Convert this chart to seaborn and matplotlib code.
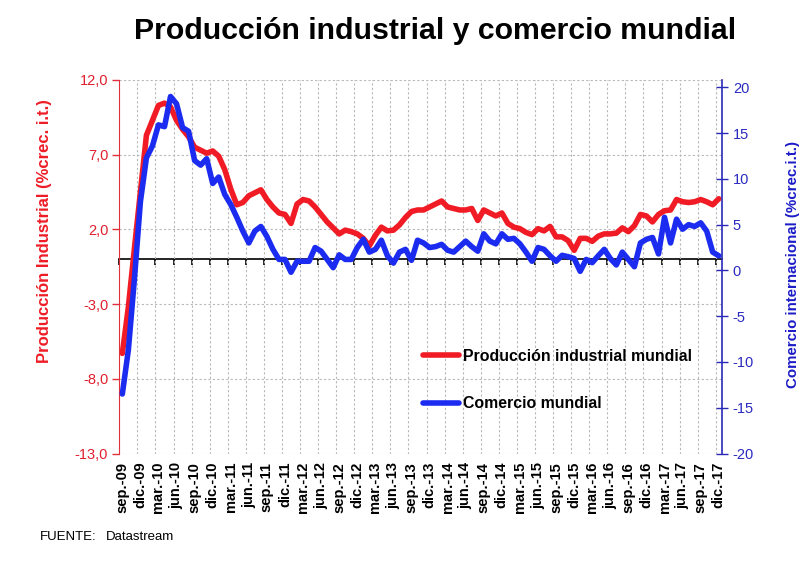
import numpy as np
import pandas as pd
import seaborn as sns
import matplotlib.pyplot as plt


# Datos mensuales, sep-09 ... dic-17 (tasas de crecimiento inter-trimestral)
prod_industrial = [
    -6.3, -3.2, 0.7, 4.5, 8.3, 9.3, 10.3, 10.45, 10.2, 9.3,
    8.7, 8.2, 7.5, 7.3, 7.1, 7.25, 6.9, 6.0, 4.7, 3.65,
    3.8, 4.25, 4.45, 4.65, 4.0, 3.5, 3.1, 3.0, 2.4, 3.7,
    4.0, 3.9, 3.5, 3.0, 2.5, 2.1, 1.7, 1.95, 1.85, 1.7,
    1.4, 0.9, 1.6, 2.15, 1.9, 1.95, 2.3, 2.8, 3.2, 3.3,
    3.3, 3.5, 3.7, 3.9, 3.5, 3.4, 3.3, 3.3, 3.4, 2.6,
    3.3, 3.1, 2.9, 3.1, 2.4, 2.15, 2.05, 1.8, 1.65, 2.05,
    1.9, 2.2, 1.5, 1.5, 1.25, 0.6, 1.4, 1.4, 1.2, 1.55,
    1.7, 1.7, 1.75, 2.1, 1.85, 2.25, 3.0, 2.9, 2.5, 3.0,
    3.25, 3.3, 4.0, 3.85, 3.8, 3.85, 4.0, 3.85, 3.65, 4.05,
]

comercio_mundial = [
    -13.5, -8.7, -1.0, 7.5, 12.3, 13.6, 15.9, 15.7, 19.0, 18.2,
    15.6, 15.2, 12.0, 11.5, 12.2, 9.5, 10.2, 8.3, 7.2, 5.8,
    4.3, 3.0, 4.3, 4.8, 3.7, 2.3, 1.2, 1.2, -0.2, 1.0,
    1.0, 1.0, 2.5, 2.1, 1.2, 0.3, 1.7, 1.2, 1.2, 2.5,
    3.4, 2.0, 2.3, 3.3, 1.6, 0.8, 2.0, 2.3, 1.1, 3.3,
    3.0, 2.5, 2.6, 2.85, 2.2, 2.0, 2.6, 3.2, 2.6, 2.1,
    4.0, 3.2, 2.9, 4.0, 3.4, 3.5, 2.9, 2.0, 1.0, 2.5,
    2.3, 1.6, 1.0, 1.65, 1.5, 1.3, -0.1, 1.2, 0.85, 1.6,
    2.3, 1.3, 0.6, 2.0, 1.2, 0.4, 3.0, 3.4, 3.6, 1.8,
    5.8, 3.0, 5.6, 4.5, 5.0, 4.8, 5.2, 4.3, 2.0, 1.6,
]

tick_labels = [
    'sep.-09', 'dic.-09', 'mar.-10', 'jun.-10', 'sep.-10', 'dic.-10',
    'mar.-11', 'jun.-11', 'sep.-11', 'dic.-11', 'mar.-12', 'jun.-12',
    'sep.-12', 'dic.-12', 'mar.-13', 'jun.-13', 'sep.-13', 'dic.-13',
    'mar.-14', 'jun.-14', 'sep.-14', 'dic.-14', 'mar.-15', 'jun.-15',
    'sep.-15', 'dic.-15', 'mar.-16', 'jun.-16', 'sep.-16', 'dic.-16',
    'mar.-17', 'jun.-17', 'sep.-17', 'dic.-17',
]

left_ticks = [-13, -8, -3, 2, 7, 12]
right_ticks = [-20, -15, -10, -5, 0, 5, 10, 15, 20]

RED = '#F01B24'
BLUE = '#1B2CF0'

sns.set_style('white')
plt.rcParams['font.family'] = ['Liberation Sans', 'DejaVu Sans']
plt.rcParams['axes.unicode_minus'] = False
plt.rcParams['text.color'] = 'black'
plt.rcParams['xtick.color'] = 'black'

df = pd.DataFrame({
    'mes': np.arange(len(prod_industrial)),
    'prod': prod_industrial,
    'comercio': comercio_mundial,
})

fig = plt.figure(figsize=(8.04, 5.61), dpi=100)
ax = fig.add_axes([0.1484, 0.1916, 0.7493, 0.6658])
ax2 = ax.twinx()

sns.lineplot(data=df, x='mes', y='prod', ax=ax, color=RED, lw=4.0, legend=False)
sns.lineplot(data=df, x='mes', y='comercio', ax=ax2, color=BLUE, lw=4.0, legend=False)

ax.set_xlim(-0.5, len(df) - 0.5)
ax.set_ylim(-13, 12)
ax2.set_ylim(-20, 20.8)

# eje x: etiquetas trimestrales, rejilla entre categorias
ax.set_xticks(np.arange(0, len(df), 3))
ax.set_xticklabels(tick_labels, rotation=90, fontweight='bold', fontsize=10.5, color='black')
ax.set_xticks(np.arange(-0.5, len(df) - 1, 3), minor=True)
ax.tick_params(axis='x', which='both', length=0, pad=6)
ax.grid(which='minor', axis='x', color='#B8B8B8', lw=0.8, ls=(0, (2, 2)))
ax.grid(which='major', axis='x', visible=False)

# eje izquierdo
ax.set_yticks(left_ticks)
ax.set_yticklabels([f'{v:.1f}'.replace('.', ',') for v in left_ticks])
ax.tick_params(axis='y', direction='out', length=5, width=1, color='#E0303C',
               labelcolor='#E0202E', labelsize=10.5, pad=3)
ax.grid(which='major', axis='y', color='#B8B8B8', lw=0.8, ls=(0, (2, 2)))
ax.set_axisbelow(True)
ax.set_xlabel('')
ax.set_ylabel('')

# eje derecho
ax2.set_yticks(right_ticks)
ax2.tick_params(axis='y', direction='inout', length=8, width=1, color='#2A2AB8',
                labelcolor='#2A2AC0', labelsize=10.5, pad=4)
ax2.set_ylabel('')
ax2.grid(False)

for s in ['top', 'bottom', 'right']:
    ax.spines[s].set_visible(False)
ax.spines['left'].set_color('#E0303C')
for s in ['top', 'bottom', 'left']:
    ax2.spines[s].set_visible(False)
ax2.spines['right'].set_color('#2A2AB8')
ax2.spines['right'].set_linewidth(1.2)

# eje de categorias cruzando en 0 (eje izquierdo)
zero = ax.secondary_xaxis(1 - 12 / 25)
zero.set_alignment('bottom')
zero.set_xticks(np.arange(-0.5, len(df) - 1, 3))
zero.tick_params(direction='out', length=4, width=1.2, color='black',
                 labelbottom=False, labeltop=False)
zero.spines['bottom'].set_color('black')
zero.spines['bottom'].set_linewidth(1.2)

leg = ax2.legend([ax.lines[0], ax2.lines[0]],
                 ['Producción industrial mundial', 'Comercio mundial'],
                 loc='upper left', bbox_to_anchor=(423 / 804, 1 - 349 / 561),
                 bbox_transform=fig.transFigure, frameon=False,
                 prop={'weight': 'bold', 'size': 11.4}, handlelength=2.3,
                 handletextpad=0.2, labelspacing=2.05, borderpad=0, borderaxespad=0)
for t in leg.get_texts():
    t.set_color('black')

fig.text(0.541, 0.945, 'Producción industrial y comercio mundial',
         ha='center', va='center', fontsize=21.8, fontweight='bold', color='black')
fig.text(45 / 804, 1 - 231 / 561, 'Producción Industrial (%crec. i.t.)',
         rotation=90, ha='center', va='center', color='#EE1C25',
         fontweight='bold', fontsize=12)
fig.text(793 / 804, 1 - 264 / 561, 'Comercio internacional (%crec.i.t.)',
         rotation=90, ha='center', va='center', color='#1C1CC8',
         fontweight='bold', fontsize=10.8)
fig.text(40 / 804, 1 - 537 / 561, 'FUENTE:', fontsize=9.5, va='center', color='black')
fig.text(106 / 804, 1 - 537 / 561, 'Datastream', fontsize=9.5, va='center', color='black')

fig.savefig('out.png', dpi=100)
